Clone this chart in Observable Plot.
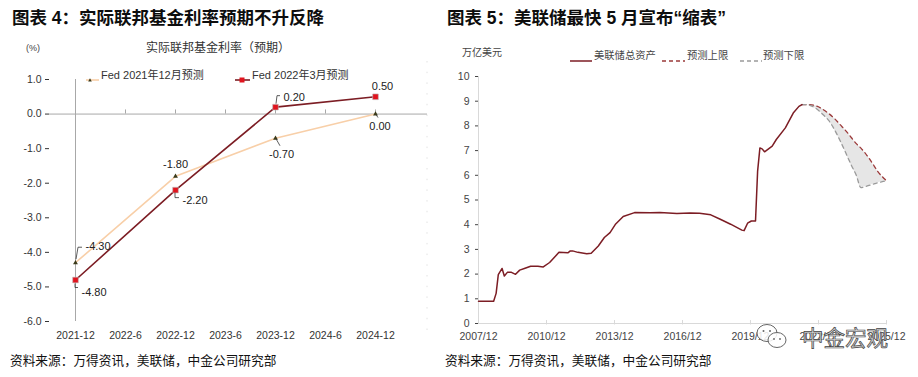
<!DOCTYPE html>
<html><head><meta charset="utf-8">
<script src="https://cdn.jsdelivr.net/npm/d3@7"></script>
<script src="https://cdn.jsdelivr.net/npm/@observablehq/plot@0.6"></script>
<style>
html,body{margin:0;padding:0;background:#fff;}
#root{position:relative;width:918px;height:377px;overflow:hidden;font-family:"Liberation Sans","Noto Sans CJK SC",sans-serif;color:#222;}
.abs{position:absolute;white-space:nowrap;}
.title{font-size:17.5px;font-weight:700;line-height:20px;color:#0d0d0d;}
.src{font-size:12.7px;line-height:14px;color:#111;}
.leg{font-size:11px;line-height:12px;color:#333;}
.leg2{font-size:10.3px;line-height:12px;color:#444;}
svg.plot{position:absolute;}
</style></head><body><div id="root"></div>
<script>
// ---------- Left chart data ----------
const xCats = ["2021-12","2022-6","2022-12","2023-6","2023-12","2024-6","2024-12"];
const fcCats = ["2021-12","2022-12","2023-12","2024-12"];
const fedDec21 = [-4.30, -1.80, -0.70, 0.00];
const fedMar22 = [-4.80, -2.20, 0.20, 0.50];
const yTicksL = [1, 0, -1, -2, -3, -4, -5, -6];
const seriesNamesL = ["Fed 2021年12月预测", "Fed 2022年3月预测"];

// ---------- Right chart data ----------
const assetDates = ["2007-12-01","2008-08-01","2008-09-10","2008-10-15","2008-12-15","2009-01-20","2009-03-10","2009-05-15","2009-07-20","2009-09-25","2009-12-20","2010-03-20","2010-07-15","2010-10-10","2011-01-20","2011-06-20","2011-11-10","2011-12-20","2012-01-25","2012-04-20","2012-09-10","2012-11-20","2013-03-15","2013-06-20","2013-09-20","2013-12-20","2014-04-20","2014-10-20","2015-07-01","2015-12-01","2016-09-01","2017-04-01","2017-09-01","2018-03-01","2018-08-01","2019-01-15","2019-07-15","2019-08-20","2019-10-15","2019-12-15","2020-02-20","2020-03-25","2020-05-01","2020-06-05","2020-07-15","2020-11-15","2021-01-20","2021-06-15","2021-10-20","2022-01-20","2022-03-10"];
const assetValues = [0.90,0.90,1.22,1.98,2.23,1.92,2.07,2.07,1.99,2.16,2.24,2.32,2.32,2.29,2.47,2.88,2.86,2.94,2.94,2.88,2.82,2.84,3.14,3.48,3.68,4.03,4.33,4.49,4.48,4.49,4.45,4.47,4.46,4.40,4.22,4.02,3.78,3.76,4.06,4.15,4.15,6.17,7.11,7.07,6.95,7.18,7.45,7.92,8.52,8.79,8.86];
const fcDates = ["2022-03-10","2022-05-15","2022-08-15","2022-11-15","2023-02-15","2023-05-15","2023-08-15","2023-11-15","2024-02-15","2024-05-15","2024-08-01","2024-10-15","2025-01-15","2025-04-15","2025-07-15","2025-11-15"];
const upperValues = [8.86,8.86,8.85,8.79,8.66,8.50,8.30,8.05,7.80,7.52,7.28,7.10,6.82,6.50,6.15,5.82];
const lowerValues = [8.86,8.86,8.80,8.66,8.45,8.22,7.85,7.40,6.90,6.40,6.00,5.50,5.56,5.63,5.70,5.77];
const xTickLabelsR = ["2007/12","2010/12","2013/12","2016/12","2019/12","2022/12","2025/12"];
const seriesNamesR = ["美联储总资产","预测上限","预测下限"];

const FONT = '"Liberation Sans","Noto Sans CJK SC",sans-serif';
const DARKRED = "#7C1D24", PEACH = "#F8CFA8";
const root = document.getElementById("root");
const NS = "http://www.w3.org/2000/svg";

function div(cls, html, style) {
  const d = document.createElement("div");
  d.className = "abs " + cls;
  d.innerHTML = html;
  Object.assign(d.style, style);
  root.appendChild(d);
  return d;
}

// titles & sources
div("title", "图表 4：实际联邦基金利率预期不升反降", {left:"12px", top:"8px"});
div("title", "图表 5：美联储最快 5 月宣布“缩表”", {left:"447px", top:"8px"});
div("src", "资料来源：万得资讯，美联储，中金公司研究部", {left:"10px", top:"354px"});
div("src", "资料来源：万得资讯，美联储，中金公司研究部", {left:"445px", top:"354px"});

// left header
div("", "(%)", {left:"26px", top:"43px", fontSize:"9px", lineHeight:"10px", color:"#444"});
div("", "实际联邦基金利率（预期）", {left:"218px", top:"41px", fontSize:"12px", lineHeight:"14px", color:"#333", transform:"translateX(-50%)"});

// left legend
div("", `<svg width="16" height="10" style="vertical-align:middle"><line x1="1" y1="5" x2="14" y2="5" stroke="${PEACH}" stroke-width="1.6"/><path d="M5,3.2 L6.8,6.6 L3.2,6.6Z" fill="#3a3a1a"/></svg>`, {left:"85px", top:"70px"});
div("leg", seriesNamesL[0], {left:"101px", top:"69px"});
div("", `<svg width="18" height="10" style="vertical-align:middle"><line x1="1" y1="5" x2="16" y2="5" stroke="${DARKRED}" stroke-width="1.6"/><rect x="5.5" y="2.5" width="5" height="5" fill="#e0141e"/></svg>`, {left:"234px", top:"70px"});
div("leg", seriesNamesL[1], {left:"252px", top:"69px"});

// right header
div("leg2", "万亿美元", {left:"462px", top:"47px", fontSize:"10px"});
div("", `<svg width="24" height="8"><line x1="0" y1="4" x2="22" y2="4" stroke="${DARKRED}" stroke-width="1.5"/></svg>`, {left:"570px", top:"51px"});
div("leg2", seriesNamesR[0], {left:"594px", top:"50px"});
div("", `<svg width="24" height="8"><line x1="0" y1="4" x2="23" y2="4" stroke="#9b3a3a" stroke-width="1.3" stroke-dasharray="4,3"/></svg>`, {left:"662px", top:"51px"});
div("leg2", seriesNamesR[1], {left:"687px", top:"50px"});
div("", `<svg width="24" height="8"><line x1="0" y1="4" x2="22" y2="4" stroke="#9a9a9a" stroke-width="1.3" stroke-dasharray="4,3"/></svg>`, {left:"740px", top:"51px"});
div("leg2", seriesNamesR[2], {left:"763px", top:"50px"});

// ---------- Left plot ----------
const rowsL = fcCats.map((c, i) => ({cat: c, a: fedDec21[i], b: fedMar22[i]}));
const labA = [{dx:10,dy:-16,anchor:"start"},{dx:0,dy:-12,anchor:"middle"},{dx:6,dy:16,anchor:"middle"},{dx:4.5,dy:12,anchor:"middle"}];
const labB = [{dx:6,dy:12,anchor:"start"},{dx:7,dy:10,anchor:"start"},{dx:8,dy:-10,anchor:"start"},{dx:7,dy:-10,anchor:"middle"}];
const leadA = [[[1,-3],[3,-15],[7,-15]], null, [[1,1],[5,8]], [[1,1],[3,4]]];
const leadB = [[[0,4],[0,8],[3,8]], [[0,3],[0,8],[4,8]], [[1,-3],[2,-11],[5,-11]], null];

function findScales(args) {
  for (const a of args) if (a && typeof a.x === "function" && typeof a.y === "function") return a;
  return null;
}
function findDims(args) {
  for (const a of args) if (a && typeof a.width === "number" && typeof a.marginLeft === "number") return a;
  return null;
}

const leaderMark = function(...args) {
  const s = findScales(args);
  const g = document.createElementNS(NS, "g");
  if (!s) return g;
  rowsL.forEach((r, i) => {
    [[leadA[i], r.a, "#333"], [leadB[i], r.b, "#333"]].forEach(([pts, v, col]) => {
      if (!pts) return;
      const x0 = s.x(r.cat), y0 = s.y(v);
      const p = document.createElementNS(NS, "path");
      p.setAttribute("d", "M" + pts.map(([dx, dy]) => (x0 + dx) + "," + (y0 + dy)).join("L"));
      p.setAttribute("fill", "none");
      p.setAttribute("stroke", col);
      p.setAttribute("stroke-width", "0.8");
      g.appendChild(p);
    });
  });
  return g;
};
const rightEdgeMark = function(...args) {
  const d = findDims(args);
  const g = document.createElementNS(NS, "g");
  if (!d) return g;
  const l = document.createElementNS(NS, "line");
  const x = d.width - d.marginRight;
  l.setAttribute("x1", x); l.setAttribute("x2", x);
  l.setAttribute("y1", d.marginTop - 18); l.setAttribute("y2", d.height - d.marginBottom + 14);
  l.setAttribute("stroke", "#e2e2e2");
  l.setAttribute("stroke-dasharray", "1.5,9.2");
  g.appendChild(l);
  return g;
};

const left = Plot.plot({
  width: 450, height: 290,
  marginLeft: 49, marginRight: 23, marginTop: 19, marginBottom: 29,
  style: {fontFamily: FONT, fontSize: "10.5px", color: "#333", background: "transparent", overflow: "visible"},
  x: {type: "point", domain: xCats, range: [49, 401], tickSize: 0, tickPadding: 10, label: null},
  y: {domain: [-6, 1], ticks: yTicksL, tickFormat: d => d.toFixed(1), tickSize: 4, tickPadding: 4, label: null},
  marks: [
    rightEdgeMark,
    Plot.ruleY([0], {stroke: "#a8a8a8"}),
    Plot.ruleX(xCats.slice(1), {y1: 0, y2: 0.12, stroke: "#a8a8a8"}),
    Plot.ruleX([xCats[0]], {y1: -6, y2: 1, stroke: "#a8a8a8"}),
    Plot.line(rowsL, {x: "cat", y: "a", stroke: PEACH, strokeWidth: 1.6}),
    Plot.line(rowsL, {x: "cat", y: "b", stroke: DARKRED, strokeWidth: 1.6}),
    Plot.dot(rowsL, {x: "cat", y: "a", symbol: "triangle", r: 1.8, fill: "#3a3a1a", stroke: "none"}),
    Plot.dot(rowsL, {x: "cat", y: "b", symbol: "square", r: 3.2, fill: "#e0141e", stroke: "#bdbdbd", strokeWidth: 0.6}),
    leaderMark,
    ...rowsL.map((r, i) => Plot.text([r], {x: "cat", y: "a", text: d => d.a.toFixed(2), dx: labA[i].dx, dy: labA[i].dy, textAnchor: labA[i].anchor, fill: "#222", fontSize: 11})),
    ...rowsL.map((r, i) => Plot.text([r], {x: "cat", y: "b", text: d => d.b.toFixed(2), dx: labB[i].dx, dy: labB[i].dy, textAnchor: labB[i].anchor, fill: "#222", fontSize: 11}))
  ]
});
left.classList.add("plot");
left.style.left = "0px"; left.style.top = "60px";
root.appendChild(left);

// ---------- Right plot ----------
const parseD = d3.utcParse("%Y-%m-%d");
const assets = assetDates.map((d, i) => ({date: parseD(d), v: assetValues[i]}));
const fc = fcDates.map((d, i) => ({date: parseD(d), hi: upperValues[i], lo: lowerValues[i]}));
const xTicksR = xTickLabelsR.map(s => { const [y, m] = s.split("/").map(Number); return new Date(Date.UTC(y, m - 1, 1)); });

const right = Plot.plot({
  width: 468, height: 300,
  marginLeft: 28, marginRight: 32, marginTop: 16, marginBottom: 37,
  style: {fontFamily: FONT, fontSize: "10.5px", color: "#444", background: "transparent", overflow: "visible"},
  x: {type: "utc", domain: [xTicksR[0], xTicksR[xTicksR.length - 1]], ticks: xTicksR, tickFormat: d3.utcFormat("%Y/%m"), tickSize: 0, tickPadding: 9, label: null},
  y: {domain: [0, 10], ticks: d3.range(0, 11), tickSize: 3, tickPadding: 6, label: null},
  marks: [
    Plot.ruleY([0], {stroke: "#d9d9d9"}),
    Plot.ruleX([xTicksR[0]], {y1: 0, y2: 10, stroke: "#d9d9d9"}),
    Plot.ruleX(xTicksR.slice(1), {y1: -0.06, y2: 0.12, stroke: "#d9d9d9"}),
    Plot.areaY(fc, {x: "date", y1: "lo", y2: "hi", fill: "#e6e6e6", curve: "monotone-x"}),
    Plot.line(fc, {x: "date", y: "hi", stroke: "#9b3a3a", strokeWidth: 1.3, strokeDasharray: "4,3.5", curve: "monotone-x"}),
    Plot.line(fc, {x: "date", y: "lo", stroke: "#9a9a9a", strokeWidth: 1.3, strokeDasharray: "4,3.5", curve: "monotone-x"}),
    Plot.line(assets, {x: "date", y: "v", stroke: DARKRED, strokeWidth: 1.5})
  ]
});
right.classList.add("plot");
right.style.left = "450px"; right.style.top = "60px";
root.appendChild(right);

// watermark
div("", `<svg width="34" height="30"><ellipse cx="12" cy="12" rx="10" ry="8.5" fill="rgba(255,255,255,0.85)" stroke="#666" stroke-width="1"/><ellipse cx="22" cy="19" rx="9" ry="7.5" fill="rgba(255,255,255,0.85)" stroke="#666" stroke-width="1"/><circle cx="8.5" cy="10" r="1" fill="#666"/><circle cx="15" cy="10" r="1" fill="#666"/><circle cx="19" cy="18" r="0.9" fill="#666"/><circle cx="25" cy="18" r="0.9" fill="#666"/></svg>`, {left:"755px", top:"321px"});
div("", "中金宏观", {left:"802px", top:"325px", fontSize:"21.5px", lineHeight:"24px", color:"#d8d8d8", fontFamily:'"Noto Sans CJK SC",sans-serif', webkitTextStroke:"0.7px #444"});
</script></body></html>
